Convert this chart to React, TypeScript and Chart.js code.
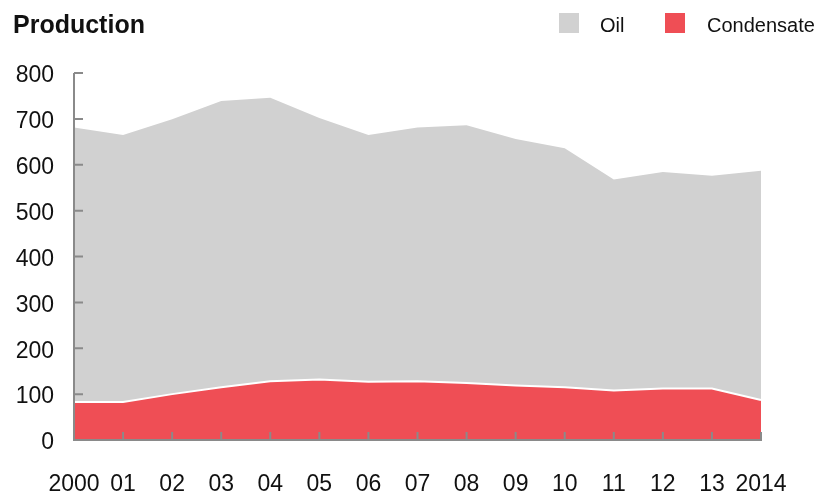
import React, { useEffect, useRef } from "react";
import { Chart, registerables } from "chart.js";

Chart.register(...registerables);

const years = ["2000", "01", "02", "03", "04", "05", "06", "07", "08", "09", "10", "11", "12", "13", "2014"];
const condensate = [83, 83, 100, 115, 128, 132, 127, 128, 124, 119, 115, 108, 112, 112, 87];
const oil = [598, 582, 599, 624, 618, 570, 538, 553, 562, 537, 521, 460, 472, 464, 500];
const yTicks = [0, 100, 200, 300, 400, 500, 600, 700, 800];

const GREY = "#d1d1d1";
const RED = "#ef4e55";
const AXIS = "#8a8a8a";
const FONT = "'Liberation Sans', Arial, sans-serif";

const axisPlugin = {
  id: "inwardAxes",
  afterDatasetsDraw(chart: any) {
    const { ctx, chartArea, scales } = chart;
    const xs = scales.x;
    const ys = scales.y;
    const top = ys.getPixelForValue(yTicks[yTicks.length - 1]);
    const bottom = ys.getPixelForValue(0);
    ctx.save();
    ctx.strokeStyle = AXIS;
    ctx.lineWidth = 2;
    ctx.beginPath();
    ctx.moveTo(chartArea.left, top);
    ctx.lineTo(chartArea.left, bottom);
    ctx.moveTo(chartArea.left - 1, bottom);
    ctx.lineTo(chartArea.right + 1, bottom);
    yTicks.forEach((v) => {
      const y = ys.getPixelForValue(v);
      ctx.moveTo(chartArea.left, y);
      ctx.lineTo(chartArea.left + 9, y);
    });
    years.forEach((_, i) => {
      const x = xs.getPixelForTick(i);
      ctx.moveTo(x, bottom);
      ctx.lineTo(x, bottom - 8);
    });
    ctx.stroke();
    ctx.restore();
  },
};

export default function App() {
  const ref = useRef<HTMLCanvasElement | null>(null);

  useEffect(() => {
    if (!ref.current) return;
    const chart = new Chart(ref.current, {
      type: "line",
      data: {
        labels: years,
        datasets: [
          {
            label: "Condensate",
            data: condensate,
            backgroundColor: RED,
            borderColor: "#ffffff",
            borderWidth: 2,
            fill: "origin",
            pointRadius: 0,
            tension: 0,
            order: 1,
          },
          {
            label: "Oil",
            data: oil,
            backgroundColor: GREY,
            borderColor: GREY,
            borderWidth: 0,
            fill: "-1",
            pointRadius: 0,
            tension: 0,
            order: 2,
          },
        ],
      },
      plugins: [axisPlugin],
      options: {
        animation: false,
        responsive: false,
        maintainAspectRatio: false,
        layout: { padding: { top: 73, right: 57, left: 0, bottom: 0 } },
        plugins: {
          legend: { display: false },
          title: { display: false },
          tooltip: { enabled: false },
        },
        scales: {
          x: {
            stacked: true,
            offset: false,
            grid: { display: false, drawTicks: false },
            border: { display: false },
            ticks: {
              autoSkip: false,
              maxRotation: 0,
              padding: 31,
              color: "#111111",
              font: { family: FONT, size: 23 },
            },
            afterFit: (s: any) => {
              s.height = 52;
            },
          },
          y: {
            stacked: true,
            min: 0,
            max: 800,
            grid: { display: false, drawTicks: false },
            border: { display: false },
            ticks: {
              stepSize: 100,
              padding: 20,
              labelOffset: 3,
              color: "#111111",
              font: { family: FONT, size: 23 },
            },
            afterFit: (s: any) => {
              s.width = 74;
            },
          },
        },
      },
    });
    return () => chart.destroy();
  }, []);

  return (
    <div style={{ position: "fixed", left: 0, top: 0, width: 818, height: 492, background: "#fff", fontFamily: FONT }}>
      <canvas ref={ref} width={818} height={492} style={{ position: "absolute", left: 0, top: 0, width: 818, height: 492 }} />
      <div style={{ position: "absolute", left: 13, top: 12, fontSize: 25, lineHeight: "25px", fontWeight: "bold", color: "#111" }}>
        Production
      </div>
      <div style={{ position: "absolute", left: 559, top: 13, width: 20, height: 20, background: GREY }} />
      <div style={{ position: "absolute", left: 600, top: 15, fontSize: 20, lineHeight: "20px", color: "#111" }}>Oil</div>
      <div style={{ position: "absolute", left: 665, top: 13, width: 20, height: 20, background: RED }} />
      <div style={{ position: "absolute", left: 707, top: 15, fontSize: 20, lineHeight: "20px", color: "#111" }}>Condensate</div>
    </div>
  );
}
